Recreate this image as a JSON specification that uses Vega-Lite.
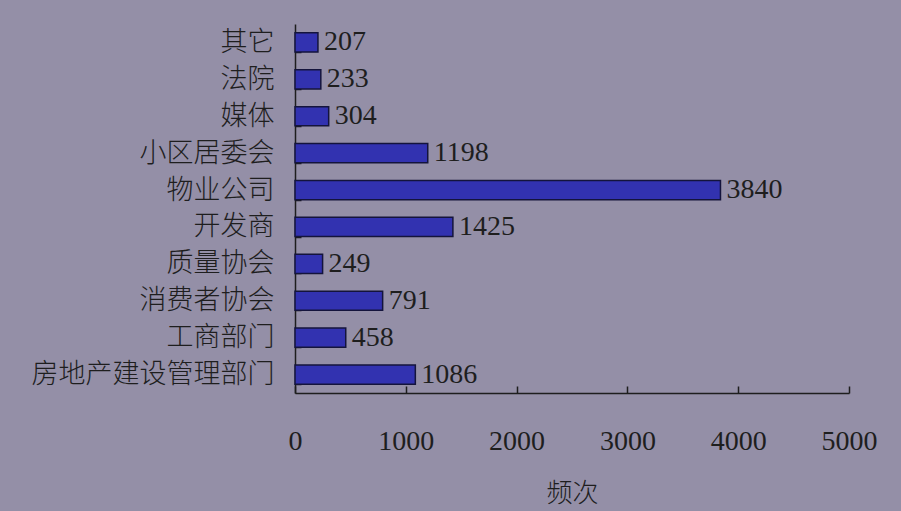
{
  "$schema": "https://vega.github.io/schema/vega-lite/v6.json",
  "autosize": "none",
  "width": 554,
  "height": 369,
  "padding": {"left": 295, "top": 24, "right": 52, "bottom": 118},
  "background": "#948fa7",
  "config": {
    "view": {"stroke": null},
    "axis": {"grid": false}
  },
  "data": {
    "values": [
      {"部门": "其它", "频次": 207},
      {"部门": "法院", "频次": 233},
      {"部门": "媒体", "频次": 304},
      {"部门": "小区居委会", "频次": 1198},
      {"部门": "物业公司", "频次": 3840},
      {"部门": "开发商", "频次": 1425},
      {"部门": "质量协会", "频次": 249},
      {"部门": "消费者协会", "频次": 791},
      {"部门": "工商部门", "频次": 458},
      {"部门": "房地产建设管理部门", "频次": 1086}
    ]
  },
  "encoding": {
    "y": {
      "field": "部门",
      "type": "nominal",
      "sort": null,
      "scale": {"paddingInner": 0.48, "paddingOuter": 0.24},
      "axis": {
        "title": null,
        "labelFont": "Noto Sans CJK SC",
        "labelFontSize": 27,
        "labelFontWeight": 300,
        "labelColor": "#1e1e1e",
        "labelPadding": 27,
        "labelLimit": 0,
        "domainColor": "#1e1e1e",
        "domainWidth": 1.5,
        "tickColor": "#1e1e1e",
        "tickBand": "extent",
        "tickSize": -6,
        "tickWidth": 1.5
      }
    },
    "x": {
      "field": "频次",
      "type": "quantitative",
      "scale": {"domain": [0, 5000], "nice": false},
      "axis": {
        "values": [0, 1000, 2000, 3000, 4000, 5000],
        "format": "d",
        "labelFlush": false,
        "title": "频次",
        "titleFont": "Noto Sans CJK SC",
        "titleFontSize": 26,
        "titleFontWeight": 300,
        "titleColor": "#1e1e1e",
        "titlePadding": 25,
        "labelFont": "Liberation Serif",
        "labelFontSize": 28,
        "labelColor": "#1e1e1e",
        "labelPadding": 41,
        "domainColor": "#1e1e1e",
        "domainWidth": 1.5,
        "tickColor": "#1e1e1e",
        "tickSize": -7,
        "tickWidth": 1.5
      }
    }
  },
  "layer": [
    {
      "mark": {"type": "bar", "fill": "#3232b0", "stroke": "#14143c", "strokeWidth": 1.5}
    },
    {
      "mark": {"type": "text", "align": "left", "baseline": "middle", "dx": 6, "font": "Liberation Serif", "fontSize": 28, "color": "#1e1e1e"},
      "encoding": {"text": {"field": "频次", "type": "quantitative"}}
    }
  ]
}
